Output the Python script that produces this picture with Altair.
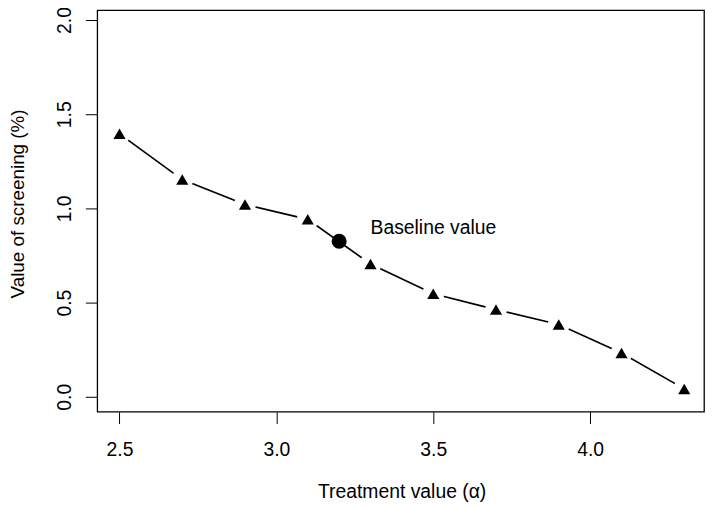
import altair as alt
import pandas as pd

treatment = [2.5, 2.7, 2.9, 3.1, 3.3, 3.5, 3.7, 3.9, 4.1, 4.3]
screening = [1.396, 1.153, 1.021, 0.942, 0.705, 0.547, 0.463, 0.384, 0.232, 0.042]
baseline_x = [3.2]
baseline_y = [0.826]
label_text = ["Baseline value"]
label_x = [3.3]
label_y = [0.895]
x_ticks = [2.5, 3.0, 3.5, 4.0]
y_ticks = [0.0, 0.5, 1.0, 1.5, 2.0]

df = pd.DataFrame({"x": treatment, "y": screening})
base_df = pd.DataFrame({"x": baseline_x, "y": baseline_y})
lab_df = pd.DataFrame({"x": label_x, "y": label_y, "t": label_text})

FONT = "Liberation Sans"
FS = 19.5

xs = alt.Scale(domain=[2.429, 4.363], nice=False, zero=False)
ys = alt.Scale(domain=[-0.0789, 2.0526], nice=False, zero=False)

xax = alt.Axis(values=x_ticks, format=".1f", title="Treatment value (α)",
               grid=False, domain=False, tickSize=12, tickColor="black", tickWidth=1,
               labelFont=FONT, labelFontSize=FS, labelColor="black",
               labelBaseline="alphabetic", labelPadding=32, labelFlush=False,
               titleFont=FONT, titleFontSize=FS, titleFontWeight="normal", titleColor="black",
               titleX=307, titleY=87, titleBaseline="alphabetic", titleAlign="center",
               titleAnchor="middle")
yax = alt.Axis(values=y_ticks, format=".1f", title="Value of screening (%)",
               grid=False, domain=False, tickSize=12, tickColor="black", tickWidth=1,
               labelFont=FONT, labelFontSize=FS, labelColor="black",
               labelAngle=270, labelAlign="center", labelBaseline="alphabetic",
               labelPadding=15, labelFlush=False,
               titleFont=FONT, titleFontSize=19, titleFontWeight="normal", titleColor="black",
               titleAngle=270, titleX=-74, titleY=195, titleBaseline="alphabetic",
               titleAlign="center", titleAnchor="middle")

line = alt.Chart(df).mark_line(color="black", strokeWidth=1.7).encode(
    x=alt.X("x:Q", scale=xs, axis=xax),
    y=alt.Y("y:Q", scale=ys, axis=yax),
)
gaps = alt.Chart(df).mark_point(shape="circle", filled=True, color="white", opacity=1, size=480).encode(
    x=alt.X("x:Q", scale=xs), y=alt.Y("y:Q", scale=ys))
tri = alt.Chart(df).mark_point(shape="triangle-up", filled=True, color="black", opacity=1, size=150).encode(
    x=alt.X("x:Q", scale=xs), y=alt.Y("y:Q", scale=ys))
circ = alt.Chart(base_df).mark_point(shape="circle", filled=True, color="black", opacity=1, size=230).encode(
    x=alt.X("x:Q", scale=xs), y=alt.Y("y:Q", scale=ys))
txt = alt.Chart(lab_df).mark_text(align="left", baseline="middle", font=FONT, fontSize=FS, color="black").encode(
    x=alt.X("x:Q", scale=xs), y=alt.Y("y:Q", scale=ys), text="t:N")

chart = alt.layer(line, gaps, tri, circ, txt).properties(
    width=612, height=405,
    background="white",
    autosize=alt.AutoSizeParams(type="none"),
    padding={"left": 90, "top": 0, "right": 2, "bottom": 92},
).configure_view(stroke="black", strokeWidth=1.3, fill="white")

chart.save("out.html", embed_options={"renderer": "svg", "actions": False})
